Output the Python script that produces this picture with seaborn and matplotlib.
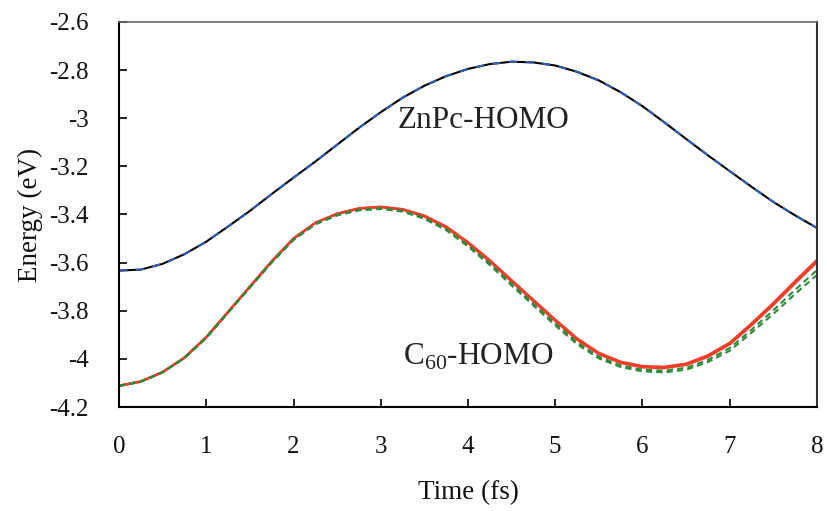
import numpy as np
import pandas as pd
import matplotlib
matplotlib.use("Agg")
import matplotlib.pyplot as plt
import seaborn as sns

time = [0.00, 0.25, 0.50, 0.75, 1.00, 1.25, 1.50, 1.75, 2.00, 2.25, 2.50, 2.75,
        3.00, 3.25, 3.50, 3.75, 4.00, 4.25, 4.50, 4.75, 5.00, 5.25, 5.50, 5.75,
        6.00, 6.25, 6.50, 6.75, 7.00, 7.25, 7.50, 7.75, 8.00]

znpc_homo = [-3.633, -3.629, -3.605, -3.565, -3.513, -3.450, -3.385, -3.315, -3.247,
             -3.180, -3.110, -3.040, -2.975, -2.915, -2.865, -2.825, -2.795, -2.775,
             -2.765, -2.768, -2.781, -2.807, -2.843, -2.892, -2.950, -3.017, -3.086,
             -3.154, -3.220, -3.285, -3.348, -3.404, -3.456]

c60_red1 = [-4.112, -4.094, -4.055, -3.995, -3.910, -3.805, -3.700, -3.595, -3.500,
            -3.435, -3.397, -3.375, -3.368, -3.378, -3.405, -3.450, -3.515, -3.590,
            -3.673, -3.755, -3.837, -3.915, -3.975, -4.012, -4.030, -4.033, -4.020,
            -3.985, -3.933, -3.853, -3.768, -3.677, -3.589]

c60_red2 = [-4.112, -4.094, -4.055, -3.995, -3.910, -3.805, -3.700, -3.595, -3.500,
            -3.435, -3.397, -3.375, -3.369, -3.380, -3.408, -3.454, -3.519, -3.595,
            -3.678, -3.760, -3.842, -3.920, -3.980, -4.017, -4.035, -4.038, -4.025,
            -3.991, -3.939, -3.860, -3.775, -3.685, -3.597]

c60_green1 = [-4.112, -4.094, -4.056, -3.996, -3.912, -3.807, -3.703, -3.598, -3.504,
              -3.439, -3.402, -3.380, -3.374, -3.385, -3.414, -3.460, -3.527, -3.604,
              -3.688, -3.771, -3.853, -3.931, -3.991, -4.027, -4.045, -4.049, -4.037,
              -4.004, -3.955, -3.879, -3.798, -3.713, -3.631]

c60_green2 = [-4.112, -4.095, -4.056, -3.997, -3.913, -3.808, -3.704, -3.600, -3.506,
              -3.441, -3.404, -3.383, -3.377, -3.388, -3.418, -3.465, -3.533, -3.610,
              -3.695, -3.778, -3.861, -3.939, -3.998, -4.034, -4.052, -4.056, -4.045,
              -4.013, -3.966, -3.891, -3.813, -3.730, -3.651]

x_ticks = [0, 1, 2, 3, 4, 5, 6, 7, 8]
y_ticks = [-4.2, -4.0, -3.8, -3.6, -3.4, -3.2, -3.0, -2.8, -2.6]
y_tick_labels = ["-4.2", "-4", "-3.8", "-3.6", "-3.4", "-3.2", "-3", "-2.8", "-2.6"]

sns.set_theme(style="white")
plt.rcParams['font.family'] = ['Liberation Serif', 'DejaVu Serif']
plt.rcParams['mathtext.fontset'] = 'custom'
plt.rcParams['mathtext.rm'] = 'Liberation Serif'
plt.rcParams['lines.solid_joinstyle'] = 'round'
plt.rcParams['lines.dash_joinstyle'] = 'round'

fig = plt.figure(figsize=(8.27, 5.11), dpi=100)
ax = fig.add_axes([0.1439, 0.2035, 0.844, 0.7535])

df = pd.DataFrame({"t": time, "zn": znpc_homo, "r1": c60_red1, "r2": c60_red2,
                   "g1": c60_green1, "g2": c60_green2})

sns.lineplot(data=df, x="t", y="zn", ax=ax, color="black", lw=1.5)
sns.lineplot(data=df, x="t", y="zn", ax=ax, color="#2f5fb0", lw=1.5, linestyle=(0, (4, 4)))
sns.lineplot(data=df, x="t", y="r1", ax=ax, color="#f03c28", lw=1.8)
sns.lineplot(data=df, x="t", y="r2", ax=ax, color="#f03c28", lw=1.8)
sns.lineplot(data=df, x="t", y="g1", ax=ax, color="#2e8b3a", lw=1.5, linestyle=(0, (3, 2)))
sns.lineplot(data=df, x="t", y="g2", ax=ax, color="#2e8b3a", lw=1.5, linestyle=(0, (3, 2)))

ax.set_xlim(0, 8)
ax.set_ylim(-4.2, -2.6)
ax.set_xticks(x_ticks)
ax.set_xticklabels([str(v) for v in x_ticks])
ax.set_yticks(y_ticks)
ax.set_yticklabels(y_tick_labels)
ax.tick_params(axis='both', which='major', direction='in', length=6, width=1.2,
               labelsize=18, color='black', labelcolor='#111111')
ax.tick_params(axis='x', pad=21, bottom=True, top=False)
ax.tick_params(axis='y', pad=22, left=True, right=False)

for side in ['left', 'bottom', 'right']:
    ax.spines[side].set_color('black')
    ax.spines[side].set_linewidth(1.5)
ax.spines['right'].set_color('#333333')
ax.spines['top'].set_color('#666666')
ax.spines['top'].set_linewidth(1.2)

ax.set_xlabel("Time (fs)", fontsize=19.5, labelpad=16, color='#111111')
ax.set_ylabel("Energy (eV)", fontsize=19.5, labelpad=4, color='#111111')

ax.text(4.18, -3.01, "ZnPc-HOMO", fontsize=22.5, ha='center', va='center', color='#222222')
ax.text(4.12, -3.99, r"C$_{60}$-HOMO", fontsize=22.5, ha='center', va='center', color='#222222')

fig.savefig("out.png", dpi=100)
